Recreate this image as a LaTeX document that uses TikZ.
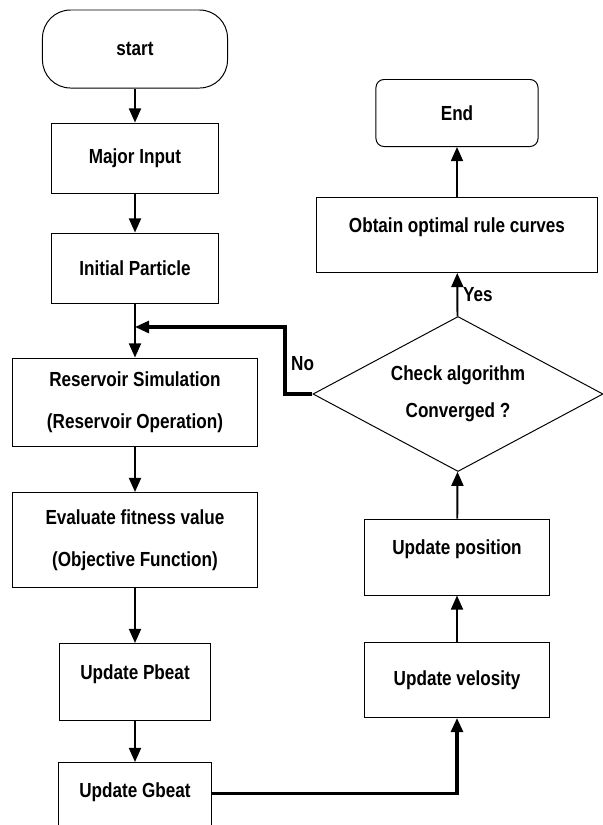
\documentclass[tikz,border=0pt]{standalone}
\usepackage{fontspec}
\setmainfont{Liberation Sans}[FakeStretch=0.84]
\usetikzlibrary{shapes.geometric, arrows.meta}

\begin{document}
\begin{tikzpicture}[x=0.025cm, y=-0.025cm, ->, >={Triangle[length=10pt, width=8.5pt]}, line width=1.4pt,
  font=\fontsize{14.5}{17}\selectfont\bfseries, align=center,
  box/.style={draw, rectangle, line width=0.7pt, inner sep=0pt},
  term/.style={box, rounded corners=0.7cm},
  test/.style={draw, diamond, line width=0.7pt, aspect=1.87, inner sep=0pt, minimum width=7.25cm, minimum height=3.875cm},
  up/.style={text depth=0.5cm},
  back/.style={line width=2.2pt}]
\useasboundingbox (0,0) rectangle (603,825);
% left column
\node[term, minimum width=4.625cm, minimum height=1.95cm] at (135,49) (start) {start};
\node[box, minimum width=4.15cm, minimum height=1.75cm] at (135,158) (major) {Major Input};
\node[box, minimum width=4.175cm, minimum height=1.75cm] at (135,268) (initial) {Initial Particle};
\node[box, minimum width=6.125cm, minimum height=2.2cm] at (135,402) (reservoir) {Reservoir Simulation\\[0.45cm](Reservoir Operation)};
\node[box, minimum width=6.125cm, minimum height=2.375cm] at (135,540) (evaluate) {Evaluate fitness value\\[0.45cm](Objective Function)};
\node[box, up, minimum width=3.75cm, minimum height=1.925cm] at (135,682) (pbest) {Update Pbeat};
\node[box, up, minimum width=3.8cm, minimum height=1.875cm] at (135,800) (gbest) {Update Gbeat};
% right column
\node[term, rounded corners=0.2cm, minimum width=4.05cm, minimum height=1.675cm] at (457,113) (finish) {End};
\node[box, up, minimum width=7cm, minimum height=1.875cm] at (457,235) (obtain) {Obtain optimal rule curves};
\node[test] at (458,394) (check) {Check algorithm\\[0.34cm]Converged ?};
\node[box, up, minimum width=4.6cm, minimum height=1.9cm] at (457,557) (position) {Update position};
\node[box, minimum width=4.6cm, minimum height=1.875cm] at (457,680) (velocity) {Update velosity};
\coordinate (turn) at (285,327);
\coordinate (join) at (135,327);

\draw (start) -- (major);
\draw (major) -- (initial);
\draw (initial) -- (reservoir);
\draw (reservoir) -- (evaluate);
\draw (evaluate) -- (pbest);
\draw (pbest) -- (gbest);
\draw[back] (gbest.mid east) -| (velocity);
\draw (velocity) -- (position);
\draw (position) -- (check);
\draw (check) -- node[right]{Yes} (obtain);
\draw (obtain) -- (finish);
\draw[back] (check.west) -- (check.west -| turn) -- node[right, pos=0.45]{No} (turn) -- (join);
\end{tikzpicture}
\end{document}
